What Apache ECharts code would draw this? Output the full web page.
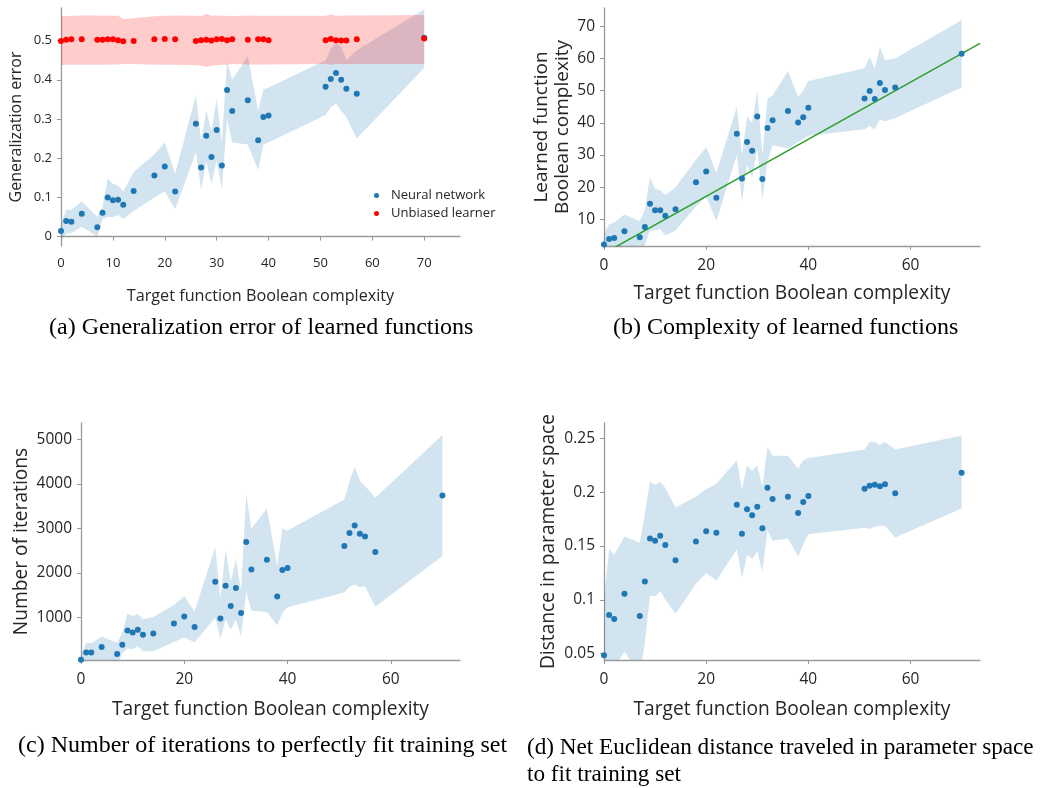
<!DOCTYPE html>
<html><head><meta charset="utf-8">
<script src="https://cdn.jsdelivr.net/npm/echarts@6/dist/echarts.min.js"></script>
<style>html,body{margin:0;padding:0;background:#fff}#c{width:1048px;height:788px}</style>
</head><body><div id="c"></div>
<script>
// Shared x values: target function Boolean complexity
const xs = [0,1,2,4,7,8,9,10,11,12,14,18,20,22,26,27,28,29,30,31,32,33,36,38,39,40,51,52,53,54,55,57,70];

// (a) Generalization error
const aNN   = [0.0145,0.040,0.038,0.058,0.024,0.061,0.0997,0.093,0.094,0.081,0.116,0.156,0.179,0.115,0.288,0.176,0.257,0.203,0.272,0.181,0.374,0.320,0.348,0.246,0.305,0.309,0.382,0.402,0.417,0.400,0.377,0.364,0.507];
const aNNHi = [0.030,0.070,0.068,0.090,0.050,0.075,0.148,0.135,0.130,0.115,0.165,0.210,0.240,0.160,0.360,0.245,0.320,0.270,0.350,0.240,0.445,0.400,0.460,0.320,0.375,0.380,0.450,0.480,0.495,0.485,0.450,0.475,0.580];
const aNNLo = [-0.010,0.008,0.009,0.025,0.000,0.045,0.050,0.050,0.055,0.045,0.065,0.100,0.115,0.070,0.215,0.120,0.190,0.135,0.195,0.120,0.300,0.240,0.235,0.170,0.235,0.240,0.310,0.330,0.340,0.320,0.305,0.250,0.430];
const aUB   = [0.499,0.502,0.503,0.503,0.502,0.502,0.5035,0.503,0.501,0.498,0.499,0.503,0.504,0.503,0.499,0.501,0.502,0.500,0.503,0.504,0.501,0.503,0.502,0.503,0.5035,0.501,0.501,0.504,0.501,0.500,0.500,0.5035,0.505];
const aUBHi = [0.563,0.562,0.563,0.564,0.564,0.563,0.564,0.563,0.563,0.555,0.557,0.562,0.563,0.564,0.563,0.562,0.568,0.563,0.564,0.563,0.563,0.562,0.564,0.563,0.563,0.563,0.563,0.567,0.563,0.563,0.564,0.564,0.565];
const aUBLo = [0.437,0.438,0.438,0.438,0.438,0.438,0.438,0.439,0.439,0.440,0.440,0.438,0.438,0.438,0.437,0.436,0.433,0.436,0.437,0.438,0.438,0.440,0.439,0.439,0.439,0.439,0.440,0.438,0.440,0.440,0.440,0.440,0.440];
const aXTicks = [0,10,20,30,40,50,60,70];
const aYTicks = [0,0.1,0.2,0.3,0.4,0.5];

// (b) Learned function complexity
const bNN   = [2.2,3.9,4.2,6.3,4.4,7.6,14.8,12.8,12.8,11.1,13.1,21.5,24.9,16.7,36.6,22.7,34.0,31.3,42.0,22.5,38.4,40.8,43.7,40.1,41.7,44.7,47.6,49.9,47.4,52.4,50.2,51.0,61.5];
const bNNHi = [5.5,8.5,9,11.5,9.5,13,23,19.5,19,17.5,20,28.5,32.5,24.5,45,30,42,40,50,30,47.5,48.5,56,48,50,53,57,60.5,57,63.5,59.5,60,72];
const bNNLo = [0,0,0.5,1,0.5,2,6.5,6.5,7,5,6.5,14,17,9.5,30,15.5,27,23,32,16,28,33,32,34,35,36,38,39,38,41,40.5,41.5,51];
const bFitX = [0,73.6];
const bFitY = [-0.6,64.7];
const bXTicks = [0,20,40,60];
const bYTicks = [10,20,30,40,50,60,70];

// (c) Number of iterations
const cNN   = [50,213,213,333,176,386,708,663,723,610,640,865,1022,783,1801,978,1712,1255,1659,1097,2693,2079,2296,1472,2064,2109,2603,2895,3067,2880,2820,2468,3741];
const cNNHi = [150,430,420,570,430,650,1090,1030,1070,960,1010,1280,1480,1130,2580,1420,2520,1800,2310,1600,3780,2990,3450,2150,3000,2950,3650,4060,4380,4070,3950,3690,5100];
const cNNLo = [0,50,40,50,-100,200,300,290,350,240,240,450,550,440,1000,520,950,730,950,570,1580,1150,1120,820,1100,1230,1560,1690,1740,1680,1700,1240,2380];
const cXTicks = [0,20,40,60];
const cYTicks = [1000,2000,3000,4000,5000];

// (d) Distance in parameter space
const dNN   = [0.0484,0.0857,0.082,0.1056,0.0848,0.117,0.157,0.155,0.1596,0.151,0.1367,0.1543,0.1637,0.1624,0.1885,0.1615,0.1842,0.1786,0.1866,0.1665,0.2043,0.1938,0.196,0.1807,0.191,0.1966,0.2034,0.2062,0.2071,0.2056,0.2075,0.1991,0.2183];
const dNNHi = [0.100,0.147,0.142,0.159,0.153,0.180,0.210,0.207,0.210,0.204,0.186,0.196,0.203,0.208,0.230,0.203,0.225,0.220,0.225,0.205,0.242,0.234,0.234,0.222,0.230,0.232,0.240,0.247,0.247,0.244,0.247,0.240,0.253];
const dNNLo = [0.030,0.040,0.035,0.052,0.030,0.060,0.104,0.103,0.108,0.100,0.087,0.115,0.125,0.118,0.147,0.120,0.142,0.138,0.145,0.126,0.165,0.155,0.157,0.140,0.152,0.161,0.167,0.166,0.168,0.169,0.169,0.158,0.185];
const dXTicks = [0,20,40,60];
const dYTicks = [0.05,0.1,0.15,0.2,0.25];

const BLUE = '#1f77b4', RED = '#ff0000';
const FONT = 'Open Sans';
const AXC = '#9a9a9a', TXT = '#262626';
const fmt = v => String(v);

function pairs(x, y){ return x.map((v,i)=>[v,y[i]]); }
function band(idx, lo, hi, fill, z){
  return {
    type:'custom', xAxisIndex:idx, yAxisIndex:idx, clip:true, z:z, silent:true,
    data: xs.map((v,i)=>[v, lo[i], hi[i]]),
    encode:{x:0, y:[1,2]},
    renderItem:function(params, api){
      if (params.dataIndex !== 0) return null;
      const pts = [];
      for (let i=0;i<xs.length;i++) pts.push(api.coord([xs[i], hi[i]]));
      for (let i=xs.length-1;i>=0;i--) pts.push(api.coord([xs[i], lo[i]]));
      return {type:'polygon', shape:{points:pts}, style:{fill:fill}};
    }
  };
}
function xAxis(idx, max, ticks, fs, name, gap, nfs, margin){
  return {type:'value', gridIndex:idx, min:0, max:max,
    name:name, nameLocation:'middle', nameGap:gap,
    nameTextStyle:{fontFamily:FONT, fontSize:nfs, color:TXT},
    axisLine:{lineStyle:{color:AXC, width:1.3}},
    axisTick:{customValues:ticks, length:4, lineStyle:{color:AXC}},
    axisLabel:{customValues:ticks, formatter:fmt, fontFamily:FONT, fontSize:fs, color:TXT, margin:margin},
    splitLine:{show:false}};
}
function yAxis(idx, min, max, ticks, fs, name, gap, nfs, lh){
  return {type:'value', gridIndex:idx, min:min, max:max,
    name:name, nameLocation:'middle', nameGap:gap,
    nameTextStyle:{fontFamily:FONT, fontSize:nfs, color:TXT, lineHeight:lh||Math.round(nfs*1.2)},
    axisLine:{show:true, lineStyle:{color:AXC, width:1.3}},
    axisTick:{show:true, customValues:ticks, length:4, lineStyle:{color:AXC}},
    axisLabel:{customValues:ticks, formatter:fmt, fontFamily:FONT, fontSize:fs, color:TXT, margin:9},
    splitLine:{show:false}};
}
function scatter(idx, y, name, color, size, z){
  return {type:'scatter', name:name, xAxisIndex:idx, yAxisIndex:idx, data:pairs(xs,y),
    symbolSize:size, itemStyle:{color:color, opacity:1}, z:z, clip:false};
}

const chart = echarts.init(document.getElementById('c'), null, {renderer:'canvas'});
const capStyle = {fontFamily:'Liberation Serif', fontSize:24, fill:'#000'};
chart.setOption({
  animation:false,
  backgroundColor:'#fff',
  grid:[
    {left:61, top:8, width:399, height:238},
    {left:604, top:8, width:376, height:238},
    {left:81, top:423, width:379, height:237},
    {left:604, top:423, width:376, height:237}
  ],
  xAxis:[
    xAxis(0, 76.9, aXTicks, 13, 'Target function Boolean complexity', 42, 16.2, 11),
    xAxis(1, 73.6, bXTicks, 15.5, 'Target function Boolean complexity', 38, 19.2, 12),
    xAxis(2, 73.4, cXTicks, 15.5, 'Target function Boolean complexity', 40, 19.2, 12),
    xAxis(3, 73.6, dXTicks, 15.5, 'Target function Boolean complexity', 40, 19.2, 12)
  ],
  yAxis:[
    yAxis(0, -0.024, 0.583, aYTicks, 13, 'Generalization error', 35, 16),
    yAxis(1, 1.7, 75.7, bYTicks, 15.5, 'Learned function\nBoolean complexity', 24, 19, 21),
    yAxis(2, 43, 5368, cYTicks, 15.5, 'Number of iterations', 42, 19.2),
    yAxis(3, 0.0439, 0.2646, dYTicks, 15.5, 'Distance in parameter space', 37, 19.2)
  ],
  legend:{
    data:[{name:'Neural network', icon:'circle'},{name:'Unbiased learner', icon:'circle'}],
    orient:'vertical', left:369, top:184, itemWidth:5, itemHeight:5, itemGap:5,
    textStyle:{fontFamily:FONT, fontSize:13, color:TXT, padding:[0,0,0,7]}
  },
  series:[
    band(0, aNNLo, aNNHi, 'rgba(31,119,180,0.2)', 1),
    band(0, aUBLo, aUBHi, 'rgba(255,0,0,0.2)', 2),
    scatter(0, aNN, 'Neural network', BLUE, 6, 3),
    scatter(0, aUB, 'Unbiased learner', RED, 6, 4),
    band(1, bNNLo, bNNHi, 'rgba(31,119,180,0.2)', 1),
    {type:'line', xAxisIndex:1, yAxisIndex:1, data:pairs(bFitX,bFitY), symbol:'none',
      lineStyle:{color:'#2ca02c', width:1.5}, z:2, clip:true},
    scatter(1, bNN, 'b', BLUE, 6, 3),
    band(2, cNNLo, cNNHi, 'rgba(31,119,180,0.2)', 1),
    scatter(2, cNN, 'c', BLUE, 6, 3),
    band(3, dNNLo, dNNHi, 'rgba(31,119,180,0.2)', 1),
    scatter(3, dNN, 'd', BLUE, 6, 3)
  ],
  graphic:[
    {type:'text', style:Object.assign({text:'(a) Generalization error of learned functions'}, capStyle), left:49, top:316},
    {type:'text', style:Object.assign({text:'(b) Complexity of learned functions'}, capStyle), left:613, top:316},
    {type:'text', style:Object.assign({text:'(c) Number of iterations to perfectly fit training set'}, capStyle), left:18, top:734},
    {type:'text', style:Object.assign({}, capStyle, {text:'(d) Net Euclidean distance traveled in parameter space\nto fit training set', fontSize:23.2, lineHeight:27}), left:527, top:734}
  ]
});
</script></body></html>
